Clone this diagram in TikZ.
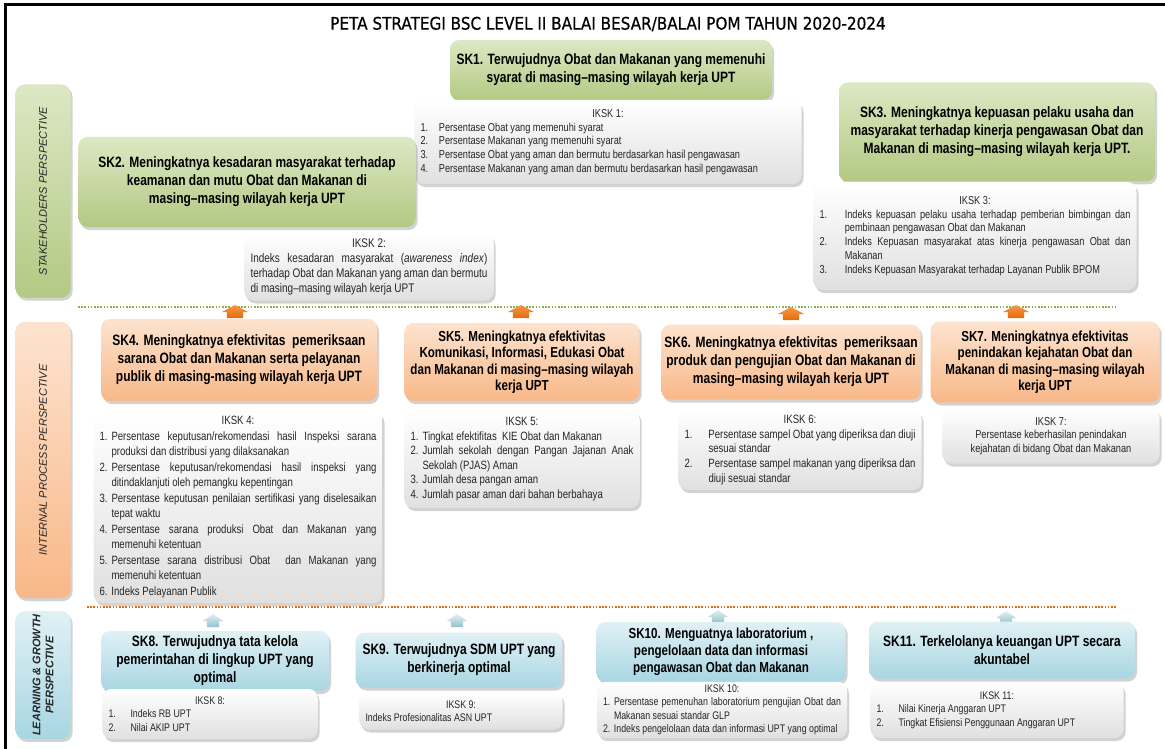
\documentclass[tikz,border=0pt]{standalone}
\usepackage{fontspec}
\usepackage{tikz}
\setmainfont{Liberation Sans}
\newfontfamily\narrowfont[FakeStretch=0.8]{Liberation Sans}
\newfontfamily\titlefont[FakeStretch=0.88, FakeBold=0.6]{DejaVu Sans}
\usetikzlibrary{positioning, shadows}
\definecolor{greentop}{HTML}{DCE8C4}
\definecolor{greenbot}{HTML}{B3C983}
\definecolor{orangetop}{HTML}{FDE3CF}
\definecolor{orangebot}{HTML}{F8B888}
\definecolor{bluetop}{HTML}{E0F1F5}
\definecolor{bluebot}{HTML}{A8D6E2}
\definecolor{paperbot}{HTML}{E0E0E0}
\definecolor{upshade}{HTML}{E46C0A}
\definecolor{uplight}{HTML}{F79646}
\definecolor{dotgreen}{HTML}{8DB04E}
\definecolor{labelgray}{HTML}{262626}
\setlength{\emergencystretch}{3em}
\hbadness=10000
\hyphenpenalty=10000
\exhyphenpenalty=10000
\newcommand{\ikhead}[1]{{\noindent\centering #1\par}}
\newcommand{\ikitem}[2][1.6em]{\par\noindent\hangindent=#1\hangafter=1\makebox[#1][l]{#2}}

\begin{document}
\begin{tikzpicture}[x=1pt, y=-1pt,
    box/.style={rectangle, rounded corners=9pt, align=center, inner sep=3pt,
      drop shadow={opacity=0.35, shadow xshift=2pt, shadow yshift=-3pt}},
    skgreen/.style={box, top color=greentop, bottom color=greenbot,
      font=\narrowfont\bfseries\fontsize{15}{18}\selectfont},
    skorange/.style={box, top color=orangetop, bottom color=orangebot,
      font=\narrowfont\bfseries\fontsize{15}{18}\selectfont},
    skblue/.style={box, top color=bluetop, bottom color=bluebot,
      font=\narrowfont\bfseries\fontsize{15}{18}\selectfont},
    iksk/.style={box, top color=white, bottom color=paperbot, align=justify, inner xsep=6pt,
      text=black!85, font=\narrowfont\fontsize{11.5}{13.8}\selectfont},
    persp/.style={box, rotate=90, text=labelgray, font=\itshape\fontsize{11}{13}\selectfont},
    house/.pic={\path[pic actions] (-0.62*#1,7) -- (-0.62*#1,1) -- (-#1,1) -- (0,-6)
      -- (#1,1) -- (0.62*#1,1) -- (0.62*#1,7) -- cycle;},
    uporange/.style={top color=uplight, bottom color=upshade},
    upblue/.style={top color=bluetop, bottom color=bluebot!90!black},
    dotline/.style={line width=2pt, dash pattern=on 1.6pt off 1.6pt}]

    \useasboundingbox (0,0) rectangle (1165,749);
    \fill[white] (0,0) rectangle (1165,749);
    \coordinate (frametl) at (5,5);
    \coordinate (frametr) at (1165,5);
    \coordinate (framebl) at (5,749);
    \draw[line width=3pt] (framebl) -- (frametl) -- (frametr);

    \node (title) at (608,24) {\titlefont\fontsize{17.3}{20}\selectfont PETA STRATEGI BSC LEVEL II BALAI BESAR/BALAI POM TAHUN 2020-2024};

    % perspectives
    \node (stake) [persp, top color=greentop, bottom color=greenbot, minimum width=213pt, minimum height=55pt] at (43,191) {STAKEHOLDERS PERSPECTIVE};
    \node (intern) [persp, top color=orangetop, bottom color=orangebot, minimum width=276pt, minimum height=55pt] at (43,460) {INTERNAL PROCESS PERSPECTIVE};
    \node (learn) [persp, top color=bluetop, bottom color=bluebot, minimum width=127pt, minimum height=55pt, font=\bfseries\itshape\fontsize{11}{13}\selectfont] at (43,675) {LEARNING \& GROWTH\\ PERSPECTIVE};

    % stakeholders
    \node (sk1) [skgreen, minimum width=322pt, minimum height=60pt] at (611,70) {SK1. Terwujudnya Obat dan Makanan yang memenuhi\\ syarat di masing–masing wilayah kerja UPT};
    \node (ik1) [iksk, text width=375pt, minimum height=84pt] at (608,142) {\ikhead{IKSK 1:}\ikitem{1.}Persentase Obat yang memenuhi syarat\ikitem{2.}Persentase Makanan yang memenuhi syarat\ikitem{3.}Persentase Obat yang aman dan bermutu berdasarkan hasil pengawasan\ikitem{4.}Persentase Makanan yang aman dan bermutu berdasarkan hasil pengawasan\par};
    \node (sk2) [skgreen, minimum width=337pt, minimum height=90pt] at (247,182) {SK2. Meningkatnya kesadaran masyarakat terhadap\\ keamanan dan mutu Obat dan Makanan di\\ masing–masing wilayah kerja UPT};
    \node (ik2) [iksk, text width=237pt, minimum height=67pt, font=\narrowfont\fontsize{12.5}{14.8}\selectfont] at (369,267) {\ikhead{IKSK 2:}\noindent Indeks kesadaran masyarakat (\textit{awareness index}) terhadap Obat dan Makanan yang aman dan bermutu di \mbox{masing–masing} wilayah kerja UPT\par};
    \node (sk3) [skgreen, minimum width=316pt, minimum height=99pt] at (997,132) {SK3. Meningkatnya kepuasan pelaku usaha dan\\ masyarakat terhadap kinerja pengawasan Obat dan\\ Makanan di masing–masing wilayah kerja UPT.};
    \node (ik3) [iksk, text width=311pt, minimum height=108pt] at (975,236) {\ikhead{IKSK 3:}\ikitem[2.2em]{1.}Indeks kepuasan pelaku usaha terhadap pemberian bimbingan dan pembinaan pengawasan Obat dan Makanan\ikitem[2.2em]{2.}Indeks Kepuasan masyarakat atas kinerja pengawasan Obat dan Makanan\ikitem[2.2em]{3.}Indeks Kepuasan Masyarakat terhadap Layanan Publik BPOM\par};

    \coordinate (greenl) at (78,307);
    \coordinate (greenr) at (1117,307);
    \draw[dotline, dotgreen] (greenl) -- (greenr);

    % internal process
    \pic (up4) [uporange] at (235,311) {house=13};
    \pic (up5) [uporange] at (521,311) {house=13};
    \pic (up6) [uporange] at (791,313) {house=13};
    \pic (up7) [uporange] at (1016,311) {house=13};
    \node (sk4) [skorange, minimum width=276pt, minimum height=82pt] at (239,360) {SK4. Meningkatnya efektivitas\ \ pemeriksaan\\ sarana Obat dan Makanan serta pelayanan\\ publik di masing-masing wilayah kerja UPT};
    \node (ik4) [iksk, text width=277pt, minimum height=192pt, font=\narrowfont\fontsize{12}{15.5}\selectfont] at (238,507) {\ikhead{IKSK 4:}\ikitem[1em]{1.}Persentase keputusan/rekomendasi hasil Inspeksi sarana produksi dan distribusi yang dilaksanakan\ikitem[1em]{2.}Persentase keputusan/rekomendasi hasil inspeksi yang ditindaklanjuti oleh pemangku kepentingan\ikitem[1em]{3.}Persentase keputusan penilaian sertifikasi yang diselesaikan tepat waktu\ikitem[1em]{4.}Persentase sarana produksi Obat dan Makanan yang memenuhi ketentuan\ikitem[1em]{5.}Persentase sarana distribusi Obat\ \ dan Makanan yang memenuhi ketentuan\ikitem[1em]{6.}Indeks Pelayanan Publik\par};
    \node (sk5) [skorange, minimum width=235pt, minimum height=78pt, font=\narrowfont\bfseries\fontsize{14.5}{16.5}\selectfont] at (522,362) {SK5. Meningkatnya efektivitas\\ Komunikasi, Informasi, Edukasi Obat\\ dan Makanan di masing–masing wilayah\\ kerja UPT};
    \node (ik5) [iksk, text width=223pt, minimum height=98pt, font=\narrowfont\fontsize{12}{14.6}\selectfont] at (522,459) {\ikhead{IKSK 5:}\ikitem[1em]{1.}Tingkat efektifitas\ \ KIE Obat dan Makanan\ikitem[1em]{2.}Jumlah sekolah dengan Pangan Jajanan Anak Sekolah (PJAS) Aman\ikitem[1em]{3.}Jumlah desa pangan aman\ikitem[1em]{4.}Jumlah pasar aman dari bahan berbahaya\par};
    \node (sk6) [skorange, minimum width=255pt, minimum height=75pt] at (791,362) {SK6. Meningkatnya efektivitas\ \ pemeriksaan\\ produk dan pengujian Obat dan Makanan di\\ masing–masing wilayah kerja UPT};
    \node (ik6) [iksk, text width=231pt, minimum height=80pt, font=\narrowfont\fontsize{12}{14.6}\selectfont] at (800,450) {\ikhead{IKSK 6:}\ikitem[2em]{1.}Persentase sampel Obat yang diperiksa dan diuji sesuai standar\ikitem[2em]{2.}Persentase sampel makanan yang diperiksa dan diuji sesuai standar\par};
    \node (sk7) [skorange, minimum width=229pt, minimum height=81pt, font=\narrowfont\bfseries\fontsize{14.5}{16.5}\selectfont] at (1045,362) {SK7. Meningkatnya efektivitas\\ penindakan kejahatan Obat dan\\ Makanan di masing–masing wilayah\\ kerja UPT};
    \node (ik7) [iksk, align=center, minimum width=217pt, minimum height=55pt] at (1051,436) {IKSK 7:\\ Persentase keberhasilan penindakan\\ kejahatan di bidang Obat dan Makanan};

    \coordinate (orangel) at (87,607);
    \coordinate (oranger) at (1117,607);
    \draw[dotline, upshade] (orangel) -- (oranger);

    % learning and growth
    \pic (up8) [upblue] at (213,620) {house=10};
    \pic (up9) [upblue] at (457,620) {house=10};
    \pic (up10) [upblue] at (718,616) {house=10};
    \pic (up11) [upblue] at (1006,617) {house=10};
    \node (sk8) [skblue, minimum width=228pt, minimum height=60pt] at (215,661) {SK8. Terwujudnya tata kelola\\ pemerintahan di lingkup UPT yang\\ optimal};
    \node (ik8) [iksk, text width=203pt, minimum height=50pt, font=\narrowfont\fontsize{11}{13.5}\selectfont] at (210,714) {\ikhead{IKSK 8:}\ikitem[2em]{1.}Indeks RB UPT\ikitem[2em]{2.}Nilai AKIP UPT\par};
    \node (sk9) [skblue, minimum width=207pt, minimum height=55pt] at (459,660) {SK9. Terwujudnya SDM UPT yang\\ berkinerja optimal};
    \node (ik9) [iksk, text width=191pt, minimum height=37pt, font=\narrowfont\fontsize{11}{13.5}\selectfont] at (461,711) {\ikhead{IKSK 9:}\noindent Indeks Profesionalitas ASN UPT\par};
    \node (sk10) [skblue, minimum width=249pt, minimum height=60pt, font=\narrowfont\bfseries\fontsize{14.5}{17}\selectfont] at (721,652) {SK10. Menguatnya laboratorium ,\\ pengelolaan data dan informasi\\ pengawasan Obat dan Makanan};
    \node (ik10) [iksk, text width=238pt, minimum height=56pt, font=\narrowfont\fontsize{11}{13.5}\selectfont] at (722,710) {\ikhead{IKSK 10:}\ikitem[1em]{1.}Persentase pemenuhan laboratorium pengujian Obat dan Makanan sesuai standar GLP\ikitem[1em]{2.}Indeks pengelolaan data dan informasi UPT yang optimal\par};
    \node (sk11) [skblue, minimum width=266pt, minimum height=57pt] at (1002,650) {SK11. Terkelolanya keuangan UPT secara\\ akuntabel};
    \node (ik11) [iksk, text width=241pt, minimum height=56pt, font=\narrowfont\fontsize{11}{13.5}\selectfont] at (997,710) {\ikhead{IKSK 11:}\ikitem[2em]{1.}Nilai Kinerja Anggaran UPT\ikitem[2em]{2.}Tingkat Efisiensi Penggunaan Anggaran UPT\par};
\end{tikzpicture}
\end{document}
